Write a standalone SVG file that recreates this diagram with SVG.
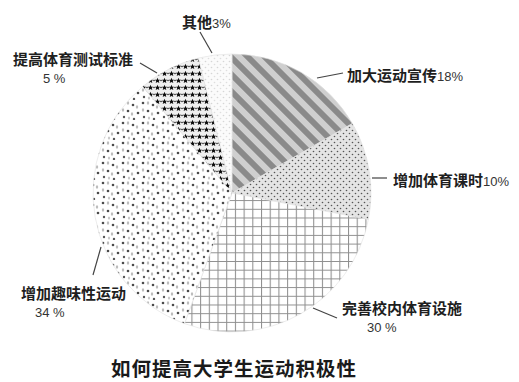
<svg xmlns="http://www.w3.org/2000/svg" width="519" height="382" viewBox="0 0 519 382">
<style>
.lbl{font-family:"Noto Sans CJK SC","Noto Sans",sans-serif;font-size:15px;font-weight:bold;fill:#1e1e1e}
.num{font-family:"Liberation Sans","Noto Sans",sans-serif;font-size:13px;font-weight:normal;fill:#333}
.title{font-family:"Noto Sans CJK SC","Noto Sans",sans-serif;font-size:19.5px;font-weight:bold;fill:#1a1a1a}
.lead{stroke:#444;stroke-width:1.2;fill:none}
.slice{stroke:#e0e0e0;stroke-width:0.6}
</style>
<defs>
<pattern id="pStripe" patternUnits="userSpaceOnUse" width="12" height="12" patternTransform="rotate(-45)">
<rect width="12" height="12" fill="#cfcfcf"/>
<rect width="6" height="12" fill="#8a8a8a"/>
</pattern>
<pattern id="pDots" patternUnits="userSpaceOnUse" width="6" height="6">
<rect width="6" height="6" fill="#e4e4e4"/>
<circle cx="1.5" cy="1.5" r="0.8" fill="#555"/>
<circle cx="4.5" cy="4.5" r="0.8" fill="#555"/>
</pattern>
<pattern id="pGrid" patternUnits="userSpaceOnUse" width="8.7" height="8.7">
<rect width="8.7" height="8.7" fill="#fff"/>
<path d="M0.5,0V8.7M0,0.5H8.7" stroke="#8f8f8f" stroke-width="1.1"/>
</pattern>
<pattern id="pSparse" patternUnits="userSpaceOnUse" width="20" height="20">
<rect width="20" height="20" fill="#fff"/>
<circle cx="3" cy="3" r="1.3" fill="#4a4a4a"/>
<circle cx="13" cy="5" r="1.3" fill="#4a4a4a"/>
<circle cx="8" cy="11" r="1.3" fill="#4a4a4a"/>
<circle cx="18" cy="13" r="1.3" fill="#4a4a4a"/>
<circle cx="4" cy="17" r="1.2" fill="#555"/>
<circle cx="14" cy="19" r="1.2" fill="#555"/>
<ellipse cx="8" cy="3" rx="1.2" ry="1.8" fill="#bdbdbd"/>
<ellipse cx="17" cy="7" rx="1.2" ry="1.8" fill="#bdbdbd"/>
<ellipse cx="3" cy="10" rx="1.2" ry="1.8" fill="#bdbdbd"/>
<ellipse cx="12" cy="14" rx="1.2" ry="1.8" fill="#bdbdbd"/>
<ellipse cx="9" cy="18" rx="1.1" ry="1.6" fill="#c8c8c8"/>
</pattern>
<pattern id="pStars" patternUnits="userSpaceOnUse" width="7" height="7">
<rect width="7" height="7" fill="#f0f0f0"/>
<polygon points="3.5,0.8 4.3,2.7 6.3,2.8 4.8,4.1 5.3,6.1 3.5,5 1.7,6.1 2.2,4.1 0.7,2.8 2.7,2.7" fill="#0d0d0d"/>
<circle cx="0" cy="3.5" r="0.8" fill="#222"/>
<circle cx="7" cy="3.5" r="0.8" fill="#222"/>
</pattern>
<pattern id="pOther" patternUnits="userSpaceOnUse" width="6" height="6">
<rect width="6" height="6" fill="#fbfbfb"/>
<circle cx="1.5" cy="1.5" r="0.8" fill="#d6d6d6"/>
<circle cx="4.5" cy="4.5" r="0.8" fill="#dedede"/>
</pattern>
</defs>
<rect width="519" height="382" fill="#fff"/>
<g id="pie">
<path id="s-xuanchuan" class="slice" fill="url(#pStripe)" d="M232,193 L232,54 A139,139 0 0 1 352.4,123.5 Z"/>
<path id="s-keshi" class="slice" fill="url(#pDots)" d="M232,193 L352.4,123.5 A139,139 0 0 1 368.4,219.5 Z"/>
<path id="s-sheshi" class="slice" fill="url(#pGrid)" d="M232,193 L368.4,219.5 A139,139 0 0 1 184.5,323.6 Z"/>
<path id="s-quwei" class="slice" fill="url(#pSparse)" d="M232,193 L184.5,323.6 A139,139 0 0 1 142.7,86.5 Z"/>
<path id="s-biaozhun" class="slice" fill="url(#pStars)" d="M232,193 L142.7,86.5 A139,139 0 0 1 198.4,58.1 Z"/>
<path id="s-qita" class="slice" fill="url(#pOther)" d="M232,193 L198.4,58.1 A139,139 0 0 1 232,54 Z"/>
</g>
<g id="connectors">
<path class="lead" d="M200,32 L212,53"/>
<path class="lead" d="M140,63 L157,73"/>
<path class="lead" d="M317,78 L343,73"/>
<path class="lead" d="M372,178 L387,178"/>
<path class="lead" d="M313,308 L337,318"/>
<path class="lead" d="M101,247 L93,275"/>
</g>
<g id="label-qita"><text class="lbl" x="182" y="28">其他<tspan class="num">3%</tspan></text></g>
<g id="label-biaozhun"><text class="lbl" x="13" y="65">提高体育测试标准</text><text class="num" x="43" y="83">5 %</text></g>
<g id="label-xuanchuan"><text class="lbl" x="347" y="81">加大运动宣传<tspan class="num">18%</tspan></text></g>
<g id="label-keshi"><text class="lbl" x="393" y="186">增加体育课时<tspan class="num">10%</tspan></text></g>
<g id="label-sheshi"><text class="lbl" x="342" y="314">完善校内体育设施</text><text class="num" x="367" y="332">30 %</text></g>
<g id="label-quwei"><text class="lbl" x="21" y="299">增加趣味性运动</text><text class="num" x="35" y="317">34 %</text></g>
<g id="title"><text class="title" x="234" y="376" text-anchor="middle" letter-spacing="1">如何提高大学生运动积极性</text></g>
</svg>
